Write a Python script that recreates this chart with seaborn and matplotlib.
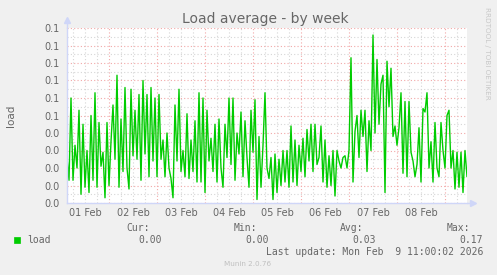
import numpy as np
import pandas as pd
import matplotlib
matplotlib.use("Agg")
import matplotlib.pyplot as plt
import matplotlib.dates as mdates
import seaborn as sns

# ---------------- data ----------------
start_time = "2026-02-01 03:00"
load = [
    # 01 Feb
    0.026, 0.013, 0.060, 0.013, 0.033, 0.020, 0.053, 0.005, 0.045, 0.009, 0.030,
    0.006, 0.050, 0.013, 0.063, 0.009, 0.046, 0.021, 0.029, 0.003, 0.046, 0.010,
    0.035, 0.056, 0.025, 0.073, 0.009, 0.048, 0.018, 0.066, 0.020, 0.008, 0.065,
    # 02 Feb
    0.027, 0.053, 0.025, 0.062, 0.013, 0.070, 0.028, 0.062, 0.015, 0.066, 0.024,
    0.060, 0.015, 0.062, 0.025, 0.036, 0.015, 0.040, 0.020, 0.014, 0.003, 0.056,
    0.024, 0.065, 0.018, 0.030, 0.015, 0.051, 0.014, 0.036, 0.018, 0.047, 0.012,
    0.063,
    # 03/04 Feb
    0.012, 0.060, 0.006, 0.053, 0.024, 0.037, 0.018, 0.045, 0.012, 0.048, 0.020,
    0.009, 0.045, 0.026, 0.060, 0.022, 0.060, 0.013, 0.040, 0.028, 0.052, 0.015,
    0.047, 0.026, 0.009, 0.053, 0.029, 0.059, 0.002, 0.038, 0.009, 0.033, 0.063,
    0.020,
    # 05 Feb
    0.014, 0.026, 0.002, 0.028, 0.006, 0.025, 0.010, 0.030, 0.012, 0.030, 0.009,
    0.044, 0.012, 0.036, 0.010, 0.033, 0.018, 0.037, 0.015, 0.042, 0.024, 0.045,
    0.018, 0.045, 0.022, 0.026, 0.044, 0.012, 0.036, 0.009, 0.027, 0.010, 0.030,
    0.004,
    # 06/07 Feb
    0.030, 0.024, 0.020, 0.026, 0.027, 0.020, 0.030, 0.083, 0.012, 0.041, 0.050,
    0.026, 0.053, 0.038, 0.053, 0.018, 0.047, 0.030, 0.096, 0.040, 0.082, 0.045,
    0.068, 0.073, 0.006, 0.081, 0.055, 0.077, 0.038, 0.044, 0.033, 0.043, 0.063,
    0.017,
    # 08/09 Feb
    0.058, 0.015, 0.058, 0.029, 0.024, 0.015, 0.022, 0.043, 0.012, 0.054, 0.052,
    0.063, 0.020, 0.035, 0.012, 0.046, 0.020, 0.015, 0.046, 0.030, 0.020, 0.050,
    0.053, 0.020, 0.030, 0.008, 0.029, 0.009, 0.029, 0.006, 0.030, 0.015,
]
y_ticks = [0.00, 0.01, 0.02, 0.03, 0.04, 0.05, 0.06, 0.07, 0.08, 0.09, 0.10]
y_tick_labels = ["0.0", "0.0", "0.0", "0.0", "0.0", "0.1", "0.1", "0.1", "0.1", "0.1", "0.1"]
day_labels = ["01 Feb", "02 Feb", "03 Feb", "04 Feb", "05 Feb", "06 Feb", "07 Feb", "08 Feb"]
legend_names = ["load"]
stat_names = ["Cur:", "Min:", "Avg:", "Max:"]
stat_values = ["0.00", "0.00", "0.03", "0.17"]
title = "Load average - by week"
y_label = "load"
last_update = "Last update: Mon Feb  9 11:00:02 2026"
side_text = "RRDTOOL / TOBI OETIKER"
footer = "Munin 2.0.76"

times = pd.date_range(start_time, periods=len(load), freq="h")
df = pd.DataFrame({"time": times, "load": load})

# ---------------- style ----------------
W, H = 497, 275
BACK = "#F0F0F0"
FONT = "#666666"
AXIS = "#CFD6F8"
MGRID = "#F2A8A8"
GRID = "#D6D6D6"
GREEN = "#00CC00"

sns.set_style("white")
plt.rcParams["font.family"] = ["DejaVu Sans"]

fig = plt.figure(figsize=(W / 100, H / 100), dpi=100, facecolor=BACK)
x0, x1, y0, y1 = 67, 467, 28, 203
ax = fig.add_axes([x0 / W, 1 - y1 / H, (x1 - x0) / W, (y1 - y0) / H])
ax.set_facecolor("white")

t_start = times[0]
t_end = times[-1]
ax.set_xlim(t_start, t_end)
ax.set_ylim(0, 0.10)

# grid
ax.xaxis.set_major_locator(mdates.DayLocator())
ax.xaxis.set_minor_locator(mdates.HourLocator(byhour=[6, 12, 18]))
ax.xaxis.set_major_formatter(matplotlib.ticker.NullFormatter())
ax.set_yticks(y_ticks)
ax.set_yticks([v + 0.005 for v in y_ticks[:-1]], minor=True)
ax.set_yticklabels(y_tick_labels)

ax.grid(which="minor", color=GRID, linestyle=(0, (1, 2)), linewidth=0.8)
ax.grid(which="major", color=MGRID, linestyle=(0, (1, 2)), linewidth=0.8)
ax.set_axisbelow(True)

sns.lineplot(data=df, x="time", y="load", ax=ax, color=GREEN, linewidth=1.0,
             legend=False, zorder=3)
ax.set_xlabel("")
ax.set_ylabel(y_label, color=FONT, fontsize=7.5, labelpad=21)

# spines
for s in ["top", "right"]:
    ax.spines[s].set_visible(False)
for s in ["left", "bottom"]:
    ax.spines[s].set_color(AXIS)
    ax.spines[s].set_linewidth(1.0)
    ax.spines[s].set_zorder(4)

ax.tick_params(axis="y", which="both", length=0, labelsize=7, labelcolor=FONT, pad=5)
ax.tick_params(axis="x", which="major", length=2.5, color="#F08080", direction="out", width=0.8)
ax.tick_params(axis="x", which="minor", length=1.5, color="#BBBBBB", direction="out", width=0.8)

# day labels centred at noon
blend = matplotlib.transforms.blended_transform_factory(ax.transData, ax.transAxes)
for i, lab in enumerate(day_labels):
    t = pd.Timestamp("2026-02-01 12:00") + pd.Timedelta(days=i)
    ax.text(mdates.date2num(t), -0.03, lab, transform=blend, ha="center", va="top",
            fontsize=7, color=FONT)

# arrows
ax.plot([0], [1.045], marker="^", markersize=5, color=AXIS, transform=ax.transAxes,
        clip_on=False, zorder=5)
ax.plot([0, 0], [1.0, 1.04], color=AXIS, lw=1.0, transform=ax.transAxes, clip_on=False)
ax.plot([1.0, 1.01], [0, 0], color=AXIS, lw=1.0, transform=ax.transAxes, clip_on=False)
ax.plot([1.014], [0], marker=">", markersize=5, color=AXIS, transform=ax.transAxes,
        clip_on=False, zorder=5)

# title and side text
fig.text(265 / W, 1 - 19 / H, title, ha="center", va="center", fontsize=10, color=FONT)
fig.text(487 / W, 1 - 53 / H, side_text, ha="center", va="center", rotation=270,
         fontsize=5.2, color="#C8C8C8")

# legend area
mono = "DejaVu Sans Mono"
fig.patches.append(matplotlib.patches.Rectangle((14 / W, 1 - 243 / H), 6 / W, 6 / H,
                   transform=fig.transFigure, facecolor=GREEN, edgecolor=GREEN, lw=0.5))
fig.text(27 / W, 1 - 240 / H, legend_names[0], ha="left", va="center",
         fontsize=7, family=mono, color=FONT)
head_x = [150, 257, 363, 470]
val_x = [162, 269, 376, 483]
for hx, vx, n, v in zip(head_x, val_x, stat_names, stat_values):
    fig.text(hx / W, 1 - 228 / H, n, ha="right", va="center", fontsize=7, family=mono, color=FONT)
    fig.text(vx / W, 1 - 240 / H, v, ha="right", va="center", fontsize=7, family=mono, color=FONT)
fig.text(483 / W, 1 - 252 / H, last_update, ha="right", va="center", fontsize=7,
         family=mono, color=FONT)
fig.text(248 / W, 1 - 264 / H, footer, ha="center", va="center", fontsize=5.2, color="#C0C0C0")

fig.savefig("out.png", dpi=100, facecolor=BACK)
